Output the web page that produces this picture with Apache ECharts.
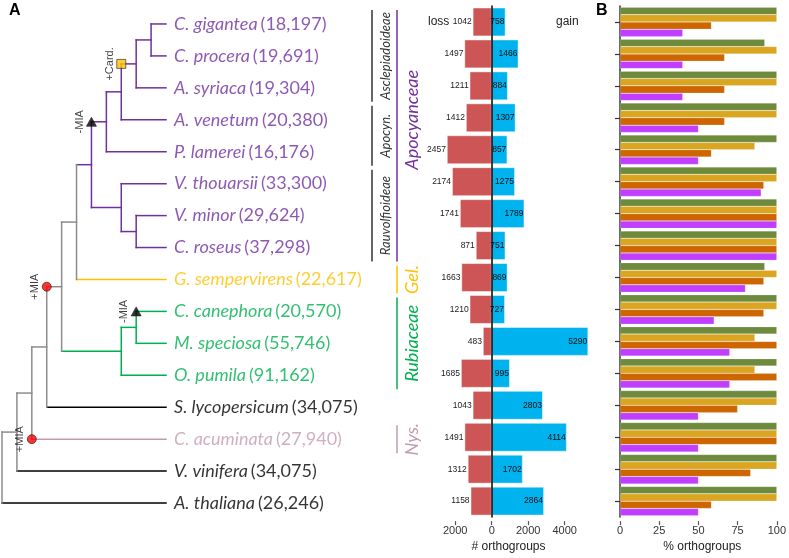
<!DOCTYPE html>
<html>
<head>
<meta charset="utf-8">
<script src="https://cdn.jsdelivr.net/npm/echarts@6/dist/echarts.min.js"></script>
<style>
  html, body { margin: 0; padding: 0; background: #fff; }
  #container { width: 789px; height: 558px; }
</style>
</head>
<body>
<div id="container"></div>
<script>
// ---- data ----
var species = ['C. gigantea', 'C. procera', 'A. syriaca', 'A. venetum', 'P. lamerei',
  'V. thouarsii', 'V. minor', 'C. roseus', 'G. sempervirens', 'C. canephora',
  'M. speciosa', 'O. pumila', 'S. lycopersicum', 'C. acuminata', 'V. vinifera', 'A. thaliana'];
var geneCounts = ['18,197', '19,691', '19,304', '20,380', '16,176', '33,300', '29,624', '37,298',
  '22,617', '20,570', '55,746', '91,162', '34,075', '27,940', '34,075', '26,246'];
var leafClade = ['apo', 'apo', 'apo', 'apo', 'apo', 'apo', 'apo', 'apo',
  'gel', 'rub', 'rub', 'rub', 'out', 'nys', 'out', 'out'];
var cladeColors = { apo: '#7030A0', gel: '#FFC000', rub: '#00B050', nys: '#C39BB0', out: '#000000', stem: '#8C8C8C' };

// topology: d = depth of node, leaves are row indexes (tips at depth 11)
var tipDepth = 11;
var tree = { d: 0, k: [
  { d: 1, k: [
    { d: 2, k: [
      { d: 3, k: [
        { id: 'gentianales', d: 4, k: [
          { d: 5, k: [
            { d: 6, c: 'apo', k: [
              { id: 'apoCore', d: 7, k: [
                { d: 8, k: [
                  { id: 'asclep', d: 9, k: [{ d: 10, k: [0, 1] }, 2] },
                  3] },
                4] },
              { d: 8, k: [5, { d: 9, k: [6, 7] }] }
            ] },
            8] },
          { d: 8, c: 'rub', k: [{ d: 9, k: [9, 10] }, 11] }
        ] },
        12] },
      13] },
    14] },
  15] };

var eventAt = ['asclep', 'apoCore', 'gentianales', 'leaf9', 'leaf13'];
var eventText = ['+Card.', '-MIA', '+MIA', '-MIA', '+MIA'];
var eventSymbol = ['rect', 'triangle', 'circle', 'triangle', 'circle'];
var eventColor = ['#FFC000', '#000000', '#FF0000', '#000000', '#FF0000'];

var cladeNames = ['Asclepiadoideae', 'Apocyn.', 'Rauvolfioideae', 'Apocyanceae', 'Gel.', 'Rubiaceae', 'Nys.'];
var cladeLevel = [0, 0, 0, 1, 1, 1, 1];
var cladeFirst = [0, 3, 5, 0, 8, 9, 13];
var cladeLast = [2, 4, 7, 7, 8, 11, 13];
var cladeMid = [1, 3.5, 6, 3, 8, 10, 13];
var cladeTone = ['#333333', '#333333', '#333333', '#7030A0', '#FFC000', '#00B050', '#C39BB0'];

var loss = [1042, 1497, 1211, 1412, 2457, 2174, 1741, 871, 1663, 1210, 483, 1685, 1043, 1491, 1312, 1158];
var gain = [758, 1466, 884, 1307, 857, 1275, 1789, 751, 869, 727, 5290, 995, 2803, 4114, 1702, 2864];
var orthoTicks = [-2000, 0, 2000, 4000];

var pctNames = ['g1', 'g2', 'g3', 'g4'];
var pctColors = ['#6E8B3D', '#DAA520', '#CD6600', '#BF3EFF'];
var pct1 = [100, 92.3, 100, 100, 100, 100, 100, 100, 92.3, 100, 100, 100, 100, 100, 100, 100];
var pct2 = [100, 100, 100, 100, 86, 100, 100, 100, 100, 100, 86, 86, 100, 100, 100, 100];
var pct3 = [58.3, 66.7, 66.7, 66.7, 58.3, 91.7, 100, 100, 91.7, 91.7, 100, 100, 75, 100, 83.3, 58.3];
var pct4 = [40, 40, 40, 50, 50, 90, 100, 100, 80, 60, 70, 70, 50, 50, 50, 50];
var pctTicks = [0, 25, 50, 75, 100];

// ---- tree layout ----
var segs = [], pos = {};
function place(node, parentDepth, color) {
  if (typeof node === 'number') {
    segs.push([parentDepth, node, tipDepth, node, cladeColors[leafClade[node]]]);
    pos['leaf' + node] = [parentDepth, node];
    return node;
  }
  var col = node.c ? cladeColors[node.c] : color;
  var ys = node.k.map(function (ch) { return place(ch, node.d, col); });
  var y = (ys[0] + ys[ys.length - 1]) / 2;
  segs.push([node.d, ys[0], node.d, ys[ys.length - 1], col]);
  if (node.d > parentDepth) segs.push([parentDepth, y, node.d, y, col]);
  if (node.id) pos[node.id] = [parentDepth, y];
  return y;
}
place(tree, 0, cladeColors.stem);

var dom = document.getElementById('container');
var myChart = echarts.init(dom);
var sans = 'Liberation Sans';

var option = {
  backgroundColor: '#FFFFFF',
  animation: false,
  title: [
    { text: 'A', left: 9, top: 3, padding: 0, textStyle: { fontSize: 16, fontWeight: 'bold', fontFamily: sans, color: '#000' } },
    { text: 'B', left: 596, top: 3, padding: 0, textStyle: { fontSize: 16, fontWeight: 'bold', fontFamily: sans, color: '#000' } }
  ],
  graphic: [
    { type: 'text', left: 428, top: 16, style: { text: 'loss', font: '12px "Liberation Sans"', fill: '#222' } },
    { type: 'text', left: 556, top: 16, style: { text: 'gain', font: '12px "Liberation Sans"', fill: '#222' } }
  ],
  grid: [
    { left: 2, width: 164, top: 8, height: 511 },
    { left: 372, width: 25, top: 8, height: 511 },
    { left: 420, width: 177, top: 6, height: 516 },
    { left: 620, width: 167, top: 6, height: 516 }
  ],
  xAxis: [
    { gridIndex: 0, type: 'value', min: 0, max: tipDepth, show: false },
    { gridIndex: 1, type: 'value', min: 0, max: 1, show: false },
    {
      gridIndex: 2, type: 'value', min: -3930, max: 5770, offset: 4,
      axisLine: { lineStyle: { color: '#555', width: 1.5 } },
      axisTick: { show: true, length: 4, customValues: orthoTicks, lineStyle: { color: '#555', width: 1.2 } },
      axisLabel: { customValues: orthoTicks, formatter: function (v) { return Math.abs(v); },
        fontSize: 11, color: '#333', fontFamily: sans, margin: 4 },
      splitLine: { show: false },
      name: '# orthogroups', nameLocation: 'middle', nameGap: 18,
      nameTextStyle: { fontSize: 12, color: '#222', fontFamily: sans }
    },
    {
      gridIndex: 3, type: 'value', min: 0, max: 105, offset: 4,
      axisLine: { lineStyle: { color: '#555', width: 1.5 } },
      axisTick: { show: true, length: 4, customValues: pctTicks, lineStyle: { color: '#555', width: 1.2 } },
      axisLabel: { customValues: pctTicks, fontSize: 11, color: '#333', fontFamily: sans, margin: 4 },
      splitLine: { show: false },
      name: '% orthogroups', nameLocation: 'middle', nameGap: 18,
      nameTextStyle: { fontSize: 12, color: '#222', fontFamily: sans }
    }
  ],
  yAxis: [
    { gridIndex: 0, type: 'value', min: -0.5, max: 15.5, inverse: true, show: false },
    { gridIndex: 1, type: 'value', min: -0.5, max: 15.5, inverse: true, show: false },
    {
      gridIndex: 2, type: 'category', data: species, inverse: true, z: 5,
      axisLine: { show: true, onZero: true, lineStyle: { color: '#000', width: 1.5 } },
      axisTick: { show: false }, axisLabel: { show: false }
    },
    {
      gridIndex: 3, type: 'category', data: species, inverse: true,
      axisLine: { show: true, lineStyle: { color: '#333', width: 1.5 } },
      axisTick: { show: true, alignWithLabel: true, length: 5, lineStyle: { color: '#333', width: 1.2 } },
      axisLabel: { show: false }
    }
  ],
  series: [
    {
      type: 'custom', name: 'tree', xAxisIndex: 0, yAxisIndex: 0, silent: true,
      data: segs.map(function (s) { return s.slice(0, 4); }),
      renderItem: function (params, api) {
        var p0 = api.coord([api.value(0), api.value(1)]);
        var p1 = api.coord([api.value(2), api.value(3)]);
        return {
          type: 'line',
          shape: { x1: p0[0], y1: p0[1], x2: p1[0], y2: p1[1] },
          style: { stroke: segs[params.dataIndex][4], lineWidth: 1.5, lineCap: 'square' }
        };
      }
    },
    {
      type: 'scatter', name: 'tips', xAxisIndex: 0, yAxisIndex: 0, symbolSize: 0, silent: true,
      data: species.map(function (s, i) {
        var c = cladeColors[leafClade[i]];
        return {
          value: [tipDepth, i],
          label: {
            show: true, position: 'right', distance: 8,
            formatter: '{n|' + s + '}{c|(' + geneCounts[i] + ')}',
            rich: {
              n: { color: c, fontStyle: 'italic', fontSize: 18, fontFamily: 'Lato' },
              c: { color: c, fontSize: 18, fontFamily: 'Lato', padding: [0, 0, 0, 3] }
            }
          }
        };
      })
    },
    {
      type: 'scatter', name: 'events', xAxisIndex: 0, yAxisIndex: 0, silent: true, z: 4,
      data: eventAt.map(function (a, i) {
        return {
          value: pos[a],
          symbol: eventSymbol[i],
          symbolSize: eventSymbol[i] === 'triangle' ? [10, 9] : 9,
          itemStyle: { color: eventColor[i], borderColor: '#222', borderWidth: 0.8 },
          label: {
            show: true, formatter: eventText[i], position: 'left', distance: 1, rotate: 90,
            align: 'center', verticalAlign: 'bottom', fontSize: 11, color: '#111', fontFamily: sans
          }
        };
      })
    },
    {
      type: 'custom', name: 'clades', xAxisIndex: 1, yAxisIndex: 1, silent: true,
      data: cladeNames.map(function (n, i) { return [cladeLevel[i], cladeFirst[i], cladeLast[i], cladeMid[i]]; }),
      renderItem: function (params, api) {
        var i = params.dataIndex;
        var lv = api.value(0);
        var a = api.coord([lv, api.value(1) - 0.5]);
        var b = api.coord([lv, api.value(2) + 0.5]);
        var m = api.coord([lv, api.value(3)]);
        var big = lv === 1;
        return {
          type: 'group',
          children: [
            { type: 'line', shape: { x1: a[0], y1: a[1] + 2, x2: b[0], y2: b[1] - 2 },
              style: { stroke: cladeTone[i], lineWidth: 1.5 } },
            { type: 'text', x: a[0] + (big ? 15 : 14), y: m[1], rotation: Math.PI / 2,
              style: { text: cladeNames[i], fill: cladeTone[i],
                font: 'italic ' + (big ? 18 : 13) + 'px Lato',
                align: 'center', verticalAlign: 'middle', textAlign: 'center', textVerticalAlign: 'middle' } }
          ]
        };
      }
    },
    {
      type: 'bar', name: 'loss', xAxisIndex: 2, yAxisIndex: 2, stack: 'orth', barCategoryGap: '10%',
      data: loss.map(function (v) { return -v; }),
      itemStyle: { color: '#CD5555', borderColor: 'rgba(255,255,255,0.6)', borderWidth: 0.8 },
      label: { show: true, position: 'left', distance: 1, fontSize: 8.5, color: '#222', fontFamily: sans,
        formatter: function (p) { return -p.value; } }
    },
    {
      type: 'bar', name: 'gain', xAxisIndex: 2, yAxisIndex: 2, stack: 'orth', barCategoryGap: '10%',
      data: gain,
      itemStyle: { color: '#00B2EE', borderColor: 'rgba(255,255,255,0.6)', borderWidth: 0.8 },
      label: { show: true, position: 'insideRight', distance: 1, fontSize: 8.5, color: '#111', fontFamily: sans }
    }
  ].concat([pct1, pct2, pct3, pct4].map(function (d, k) {
    return {
      type: 'bar', name: pctNames[k], xAxisIndex: 3, yAxisIndex: 3, data: d,
      barGap: '0%', barCategoryGap: '8%',
      itemStyle: { color: pctColors[k], borderColor: 'rgba(255,255,255,0.35)', borderWidth: 0.5 }
    };
  }))
};

if (option && typeof option === 'object') {
  myChart.setOption(option, true);
  window.onresize = function () { myChart.resize(); };
}
</script>
</body>
</html>
